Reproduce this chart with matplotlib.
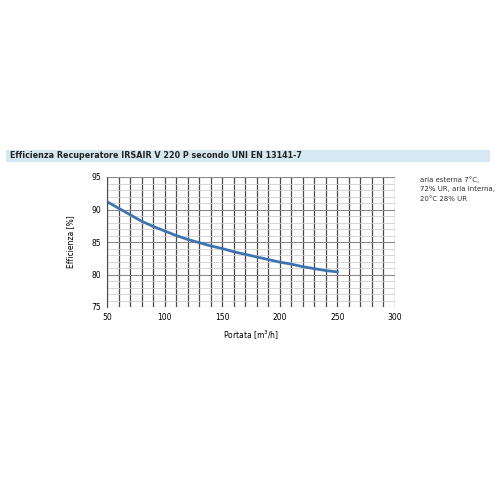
import numpy as np
import matplotlib.pyplot as plt
from matplotlib.patches import Rectangle

# values
portata = [50, 60, 70, 80, 90, 100, 110, 120, 130, 140, 150, 160, 170, 180, 190, 200, 210, 220, 230, 240, 250]
efficienza = [91.2, 90.2, 89.2, 88.2, 87.4, 86.7, 86.0, 85.4, 84.9, 84.4, 84.0, 83.5, 83.1, 82.7, 82.3, 81.9, 81.6, 81.2, 80.9, 80.6, 80.4]

fig = plt.figure(figsize=(5, 5), dpi=100)
# title band
fig.patches.append(Rectangle((0.012, 0.676), 0.968, 0.024, transform=fig.transFigure,
                             facecolor='#d6e9f2', edgecolor='none'))
fig.text(0.02, 0.688, "Efficienza Recuperatore IRSAIR V 220 P secondo UNI EN 13141-7",
         fontsize=5.8, fontweight='bold', va='center', color='#222222')

ax = fig.add_axes([0.214, 0.386, 0.576, 0.26])
ax.set_xlim(50, 300)
ax.set_ylim(75, 95)
ax.set_xticks(np.arange(50, 301, 50))
ax.set_yticks(np.arange(75, 96, 5))
ax.set_xticks(np.arange(50, 301, 10), minor=True)
ax.set_yticks(np.arange(75, 96, 1), minor=True)
ax.grid(which='minor', axis='y', color='#d0d0d0', linewidth=0.6)
ax.grid(which='major', axis='y', color='#8a8a8a', linewidth=0.8)
ax.grid(which='both', axis='x', color='#4a4a4a', linewidth=0.9)
ax.tick_params(which='both', length=0, labelsize=5.5, pad=4)
for s in ax.spines.values():
    s.set_visible(False)
ax.spines['left'].set_visible(True)
ax.spines['left'].set_color('#4a4a4a')
ax.spines['left'].set_linewidth(0.8)
ax.set_axisbelow(True)

ax.plot(portata, efficienza, color='#3f74b0', linewidth=2)
ax.set_xlabel("Portata [m$^3$/h]", fontsize=5.5, labelpad=5)
ax.set_ylabel("Efficienza [%]", fontsize=5.5, labelpad=12)

fig.text(0.84, 0.648, "aria esterna 7°C,\n72% UR, aria interna,\n20°C 28% UR",
         fontsize=5.0, va='top', linespacing=1.7, color='#333333')

fig.savefig("out.png", dpi=100)
